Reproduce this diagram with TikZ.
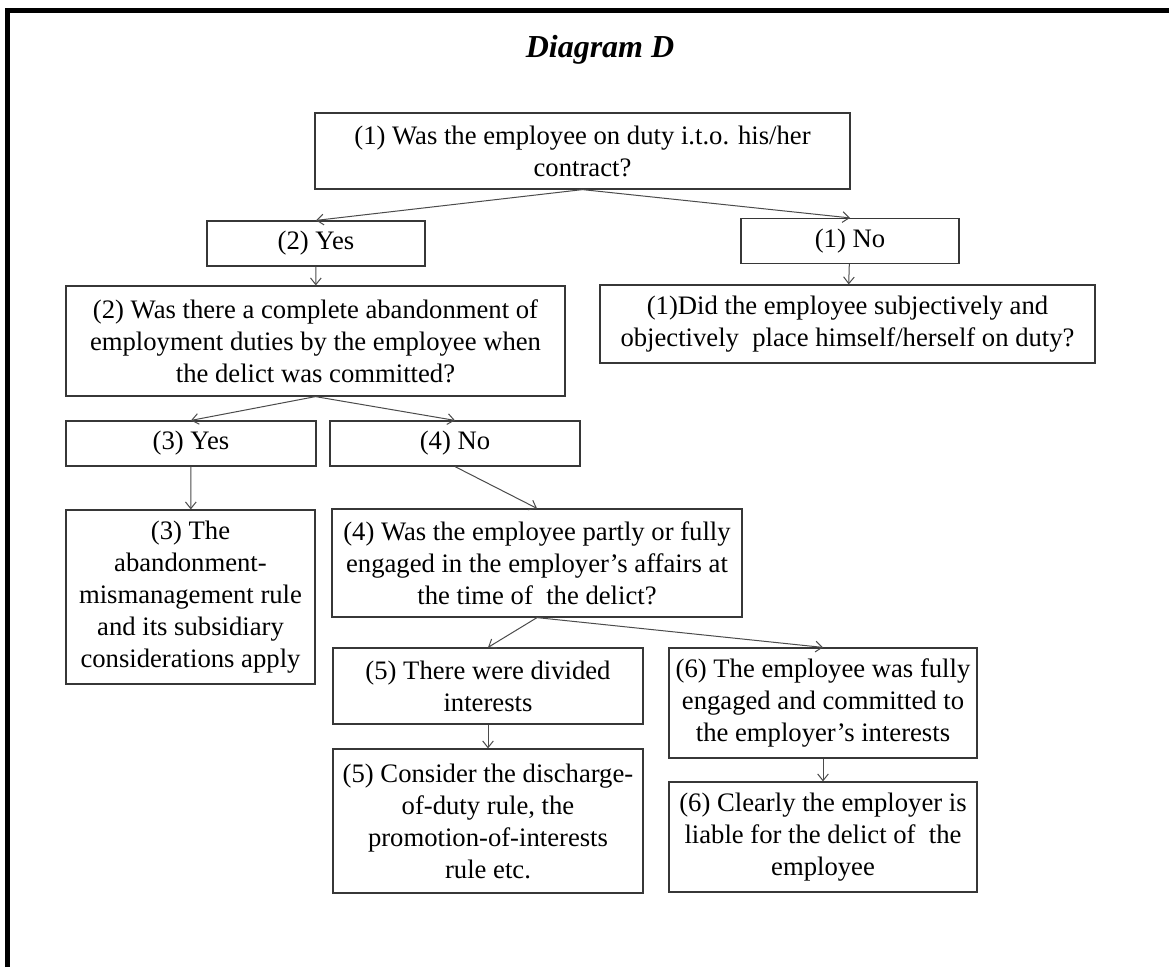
\documentclass[tikz,border=0pt]{standalone}
\usepackage{fontspec}
\setmainfont{Liberation Serif}
\usepackage{tikz}
\usetikzlibrary{
  arrows.meta,
  positioning
}
\definecolor{boxgray}{RGB}{55,55,55}
\definecolor{linkgray}{RGB}{75,75,75}
\tikzset{
  qbox/.style={
    draw=boxgray,
    line width=0.9pt,
    align=center,
    inner sep=2pt,
    font=\fontsize{20}{24}\selectfont
  },
  answerbox/.style={qbox,minimum height=33.75pt},
  link/.style={-{Straight Barb[length=5pt,width=8pt]},draw=linkgray,line width=0.75pt},
  frameline/.style={line width=3.75pt,draw=black}
}

\begin{document}
\begin{tikzpicture}[x=0.75pt,y=-0.75pt]
  \useasboundingbox (0,0) rectangle (1169,967);
  \draw[frameline] (7,967) -- (7,10.5) -- (1169,10.5);

  \node[font=\fontsize{24}{28}\selectfont\bfseries\itshape,anchor=base] (title) at (600,57) {Diagram D};

  \node[qbox,minimum width=401.25pt,minimum height=57pt] (onduty) at (582.5,151) {
    (1) Was the employee on duty i.t.o. his/her\\contract?
  };
  \node[answerbox,minimum width=163.5pt] (yesA) at (316,243.5) {(2) Yes};
  \node[answerbox,minimum width=163.5pt] (noA) at (850,241) {(1) No};
  \node[qbox,minimum width=371.25pt,minimum height=58.5pt] (placed) at (847.5,324) {
    (1)Did the employee subjectively and\\objectively\ \ place himself/herself on duty?
  };
  \node[qbox,minimum width=374.25pt,minimum height=82.5pt] (abandon) at (315.5,341) {
    (2) Was there a complete abandonment of\\employment duties by the employee when\\the delict was committed?
  };
  \node[answerbox,minimum width=187.5pt] (yesB) at (191,443.5) {(3) Yes};
  \node[answerbox,minimum width=187.5pt] (noB) at (455,443.5) {(4) No};
  \node[qbox,minimum width=186.75pt,minimum height=130.5pt] (rulethree) at (190.5,597) {
    (3) The\\abandonment-\\mismanagement rule\\and its subsidiary\\considerations apply
  };
  \node[qbox,minimum width=307.5pt,minimum height=81pt] (engaged) at (537,563) {
    (4) Was the employee partly or fully\\engaged in the employer's affairs at\\the time of\ \ the delict?
  };
  \node[qbox,minimum width=232.5pt,minimum height=57pt] (divided) at (488,686) {
    (5) There were divided\\interests
  };
  \node[qbox,minimum width=231pt,minimum height=82.5pt] (fully) at (823,703) {
    (6) The employee was fully\\engaged and committed to\\the employer's interests
  };
  \node[qbox,minimum width=232.5pt,minimum height=108pt] (rulefive) at (488,821) {
    (5) Consider the discharge-\\of-duty rule, the\\promotion-of-interests\\rule etc.
  };
  \node[qbox,minimum width=231pt,minimum height=82.5pt] (liable) at (823,837) {
    (6) Clearly the employer is\\liable for the delict of\ \ the\\employee
  };

  \draw[link] (onduty.south) -- (yesA.north);
  \draw[link] (onduty.south) -- (noA.north);
  \draw[link] (yesA) -- (abandon);
  \draw[link] (noA) -- (placed);
  \draw[link] (abandon.south) -- (yesB.north);
  \draw[link] (abandon.south) -- (noB.north);
  \draw[link] (yesB) -- (rulethree);
  \draw[link] (noB.south) -- (engaged.north);
  \draw[link] (engaged.south) -- (divided.north);
  \draw[link] (engaged.south) -- (fully.north);
  \draw[link] (divided) -- (rulefive);
  \draw[link] (fully) -- (liable);
\end{tikzpicture}
\end{document}
